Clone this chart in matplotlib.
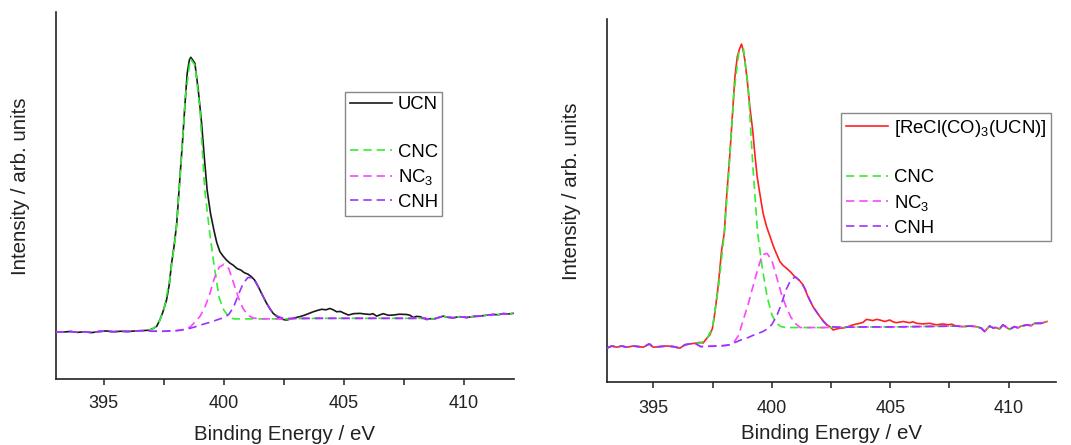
import numpy as np
import matplotlib.pyplot as plt
from matplotlib.lines import Line2D
from matplotlib.ticker import MultipleLocator

plt.rcParams['font.family'] = ['Liberation Sans', 'DejaVu Sans']
plt.rcParams['mathtext.fontset'] = 'custom'
plt.rcParams['mathtext.rm'] = 'Liberation Sans'
plt.rcParams['mathtext.it'] = 'Liberation Sans:italic'

# ---- UCN (left panel) ----
ucn_x = [393.0, 393.3, 393.6, 393.9, 394.2, 394.5, 394.8, 395.1, 395.4, 395.7, 396.0, 396.3,
         396.6, 396.9, 397.05, 397.2, 397.33, 397.45, 397.61, 397.72, 397.82, 397.92, 398.03,
         398.16, 398.28, 398.37, 398.47, 398.56, 398.62, 398.7, 398.79, 398.93, 399.07, 399.18,
         399.3, 399.44, 399.58, 399.7, 399.83, 399.97, 400.11, 400.25, 400.38, 400.55, 400.7,
         400.85, 401.0, 401.15, 401.28, 401.43, 401.6, 401.78, 401.92, 402.05, 402.2, 402.33,
         402.5, 402.61, 402.8, 403.0, 403.16, 403.4, 403.72, 403.9, 404.07, 404.25, 404.41,
         404.55, 404.69, 404.85, 404.97, 405.18, 405.4, 405.66, 405.85, 406.08, 406.2, 406.36,
         406.5, 406.63, 406.85, 407.05, 407.3, 407.61, 407.75, 407.88, 408.0, 408.16, 408.3,
         408.44, 408.6, 408.72, 408.9, 409.13, 409.3, 409.55, 409.8, 410.11, 410.4, 410.66,
         410.9, 411.22, 411.4, 411.63, 411.85, 412.03]
ucn_y = [0.0, -0.1, 0.1, -0.2, 0.0, -0.3, 0.1, 0.3, 0.0, 0.2, 0.1, 0.3,
         0.4, 0.6, 1.2, 2.0, 4.3, 7.0, 11.6, 17.0, 24.9, 31.0, 39.0,
         55.3, 69.9, 82.0, 94.2, 99.0, 100.0, 99.0, 97.8, 88.1, 75.9, 63.8,
         51.6, 43.1, 37.1, 32.5, 29.2, 27.5, 26.1, 25.0, 24.3, 23.0, 22.5,
         21.5, 21.0, 20.0, 18.8, 16.4, 13.4, 10.3, 8.3, 6.7, 5.6, 4.9,
         4.4, 4.3, 4.7, 5.2, 5.5, 6.2, 7.3, 7.8, 8.2, 8.0, 8.5,
         8.0, 7.3, 7.4, 6.9, 6.1, 6.6, 6.7, 6.5, 6.3, 6.6, 5.7,
         6.2, 6.6, 6.0, 6.1, 6.4, 6.3, 6.0, 5.2, 5.6, 5.5, 5.0,
         4.5, 4.8, 4.6, 5.1, 5.7, 5.3, 5.1, 5.5, 5.2, 5.6, 5.7,
         6.0, 6.3, 6.2, 6.6, 6.5, 6.7]

ucn_fit_x = [397.0, 397.25, 397.5, 397.75, 398.0, 398.2, 398.4, 398.6, 398.8, 399.0, 399.2,
             399.4, 399.6, 399.8, 400.0, 400.2, 400.4, 400.6, 400.8, 401.0, 401.2, 401.4,
             401.6, 401.8, 402.0, 402.2, 402.4, 402.7, 403.0, 404.0, 405.0, 406.0, 407.0, 408.4]
ucn_cnc = [0.8, 2.5, 8.0, 19.5, 36.0, 60.0, 86.0, 99.5, 97.0, 81.0, 51.6,
           36.5, 23.5, 12.4, 7.8, 5.5, 4.7, 4.7, 4.7, 4.7, 4.7, 4.7,
           4.7, 4.7, 4.7, 4.7, 4.7, 4.7, 4.8, 4.9, 4.9, 4.9, 4.9, 4.9]
ucn_nc3 = [0.2, 0.2, 0.2, 0.3, 0.4, 0.6, 1.0, 1.8, 3.6, 5.6, 8.8,
           13.5, 19.5, 23.5, 24.6, 23.0, 17.8, 12.5, 8.4, 6.0, 5.1, 4.8,
           4.7, 4.7, 4.7, 4.7, 4.7, 4.7, 4.8, 4.9, 4.9, 4.9, 4.9, 4.9]
ucn_cnh = [0.2, 0.2, 0.2, 0.3, 0.4, 0.6, 0.9, 1.3, 1.8, 2.4, 2.9,
           3.4, 4.0, 4.6, 5.2, 6.3, 9.0, 13.5, 17.6, 19.8, 19.6, 16.9,
           13.4, 10.0, 7.2, 5.8, 5.1, 4.9, 4.9, 4.9, 4.9, 4.9, 4.9, 4.9]

# ---- [ReCl(CO)3(UCN)] (right panel) ----
re_x = [393.03, 393.24, 393.45, 393.66, 393.87, 394.15, 394.36, 394.57, 394.82, 394.99, 395.27,
        395.56, 395.84, 396.12, 396.33, 396.54, 396.75, 396.96, 397.1, 397.24, 397.38, 397.49,
        397.59, 397.73, 397.88, 397.99, 398.09, 398.23, 398.34, 398.44, 398.54, 398.64, 398.72,
        398.8, 398.86, 398.96, 399.07, 399.19, 399.28, 399.38, 399.49, 399.63, 399.78, 399.92,
        400.05, 400.13, 400.34, 400.48, 400.62, 400.8, 400.97, 401.15, 401.32, 401.53, 401.74,
        402.03, 402.31, 402.45, 402.59, 402.73, 402.87, 403.05, 403.22, 403.43, 403.71, 403.85,
        404.0, 404.14, 404.27, 404.42, 404.56, 404.77, 404.98, 405.12, 405.26, 405.54, 405.82,
        405.96, 406.11, 406.38, 406.67, 406.95, 407.23, 407.44, 407.6, 407.79, 408.07, 408.35,
        408.64, 408.85, 408.99, 409.2, 409.34, 409.48, 409.62, 409.76, 410.04, 410.25, 410.4,
        410.54, 410.81, 410.95, 411.1, 411.38, 411.5, 411.62]
re_y = [-0.5, 0.2, -0.2, 0.2, -0.2, 0.2, 0.0, -0.2, 0.9, -0.2, 0.0,
        0.2, 0.0, -0.5, 0.6, 0.9, 1.1, 1.4, 1.2, 2.6, 3.9, 6.0,
        11.0, 19.8, 31.9, 37.5, 49.6, 63.9, 77.1, 89.2, 95.8, 98.5, 100.0,
        97.5, 94.7, 88.1, 79.3, 71.6, 63.9, 56.2, 50.7, 44.1, 39.6, 36.5,
        33.5, 31.9, 28.1, 26.8, 25.9, 24.6, 23.1, 22.0, 20.4, 16.5, 13.2,
        9.9, 7.2, 6.6, 5.5, 5.8, 6.1, 6.2, 6.6, 7.2, 7.7, 8.0,
        9.0, 8.8, 8.6, 9.0, 8.8, 8.3, 8.8, 8.2, 7.9, 8.3, 7.9,
        8.2, 7.7, 7.5, 7.7, 7.2, 7.5, 7.2, 7.4, 6.8, 6.6, 6.8,
        6.6, 6.1, 5.0, 6.8, 6.2, 6.3, 5.8, 7.2, 5.7, 6.6, 6.2,
        6.8, 7.2, 6.9, 7.7, 7.7, 8.0, 8.3]

re_fit_x = [397.0, 397.25, 397.5, 397.75, 398.0, 398.2, 398.4, 398.6, 398.8, 399.0, 399.2,
            399.4, 399.6, 399.8, 400.0, 400.2, 400.4, 400.6, 400.8, 401.0, 401.2, 401.4,
            401.6, 401.8, 402.0, 402.2, 402.4, 402.7, 403.0, 404.0, 405.0, 406.0, 407.0, 407.8]
re_cnc = [1.2, 2.4, 6.5, 20.0, 38.0, 60.0, 84.0, 97.0, 98.5, 86.0, 59.5,
          37.5, 25.8, 16.5, 10.6, 7.6, 6.6, 6.3, 6.3, 6.3, 6.3, 6.3,
          6.3, 6.3, 6.3, 6.3, 6.3, 6.4, 6.4, 6.5, 6.5, 6.6, 6.7, 6.8]
re_nc3 = [0.0, 0.1, 0.2, 0.3, 0.4, 0.6, 1.4, 3.8, 9.0, 14.0, 19.8,
          25.5, 30.4, 30.8, 28.5, 23.1, 17.5, 13.2, 9.8, 7.6, 6.3, 6.3,
          6.3, 6.3, 6.3, 6.3, 6.3, 6.4, 6.4, 6.5, 6.5, 6.6, 6.7, 6.8]
re_cnh = [0.0, 0.1, 0.1, 0.2, 0.3, 0.6, 1.2, 1.9, 2.5, 3.0, 3.7,
          4.3, 4.9, 5.8, 7.3, 10.0, 14.0, 18.8, 22.0, 23.1, 21.5, 19.2,
          15.4, 12.5, 10.2, 8.1, 6.8, 6.4, 6.4, 6.5, 6.5, 6.6, 6.7, 6.8]

comp_labels = ['CNC', 'NC$_3$', 'CNH']
comp_colors = ['#33ee33', '#ff44ff', '#9933ff']
DASH = (0, (5, 3))

W, H = 1071, 445
fig = plt.figure(figsize=(W / 100, H / 100), dpi=100)


def draw_panel(ax, x, y, fx, comps, lo, hi, color, label, xlim, ylim, leg_xy, tpad, lpad):
    x = np.array(x)
    y = np.array(y)
    ax.plot(x, y, color=color, lw=1.2, zorder=2)
    # outside the fit window the fit curves sit on the measured data
    left = x < lo
    right = x > hi
    for comp, c in zip(comps, comp_colors):
        cx = np.concatenate([x[left], fx, x[right]])
        cy = np.concatenate([y[left], comp, y[right]])
        ax.plot(cx, cy, color=c, lw=1.2, ls=DASH, zorder=3)

    ax.set_xlim(*xlim)
    ax.set_ylim(*ylim)
    ax.set_yticks([])
    ax.xaxis.set_major_locator(MultipleLocator(5))
    ax.xaxis.set_minor_locator(MultipleLocator(2.5))
    ax.tick_params(axis='x', which='both', direction='out', length=4, width=1.1,
                   labelsize=13, pad=tpad, colors='#222222')
    for s in ['top', 'right']:
        ax.spines[s].set_visible(False)
    for s in ['left', 'bottom']:
        ax.spines[s].set_linewidth(1.2)
        ax.spines[s].set_color('#222222')
    ax.set_xlabel('Binding Energy / eV', fontsize=14.8, labelpad=lpad, color='#222222')
    ax.set_ylabel('Intensity / arb. units', fontsize=14.8, color='#222222')

    handles = [Line2D([], [], color=color, lw=1.2), Line2D([], [], ls='none')]
    handles += [Line2D([], [], color=c, lw=1.2, ls=DASH) for c in comp_colors]
    labels = [label, ' '] + comp_labels
    leg = ax.legend(handles, labels, loc='upper left',
                    bbox_to_anchor=(leg_xy[0] / W, 1 - leg_xy[1] / H),
                    bbox_transform=fig.transFigure, borderaxespad=0, fancybox=False,
                    edgecolor='#888888', framealpha=1, fontsize=13.3, handlelength=2.3,
                    handletextpad=0.3, borderpad=0.25, labelspacing=0.36)
    leg.get_frame().set_linewidth(1.0)


ax1 = fig.add_axes([55.8 / W, 1 - 379 / H, 458.1 / W, 367.3 / H])
ax2 = fig.add_axes([606.6 / W, 1 - 382.3 / H, 449.3 / W, 363.0 / H])

draw_panel(ax1, ucn_x, ucn_y, ucn_fit_x, [ucn_cnc, ucn_nc3, ucn_cnh], 396.8, 408.4,
           '#1a1a1a', 'UCN', (393.0, 412.07), (-17.2, 116.6), (345, 91.7), 7.5, 9.5)
draw_panel(ax2, re_x, re_y, re_fit_x, [re_cnc, re_nc3, re_cnh], 396.8, 407.8,
           '#ff2020', '[ReCl(CO)$_3$(UCN)]', (393.02, 412.0), (-11.8, 108.2), (841, 113.3),
           8.5, 5.0)

ax1.yaxis.set_label_coords(-0.056, 0.524)
ax2.yaxis.set_label_coords(-0.056, 0.525)

fig.savefig('out.png', dpi=100, facecolor='white')
